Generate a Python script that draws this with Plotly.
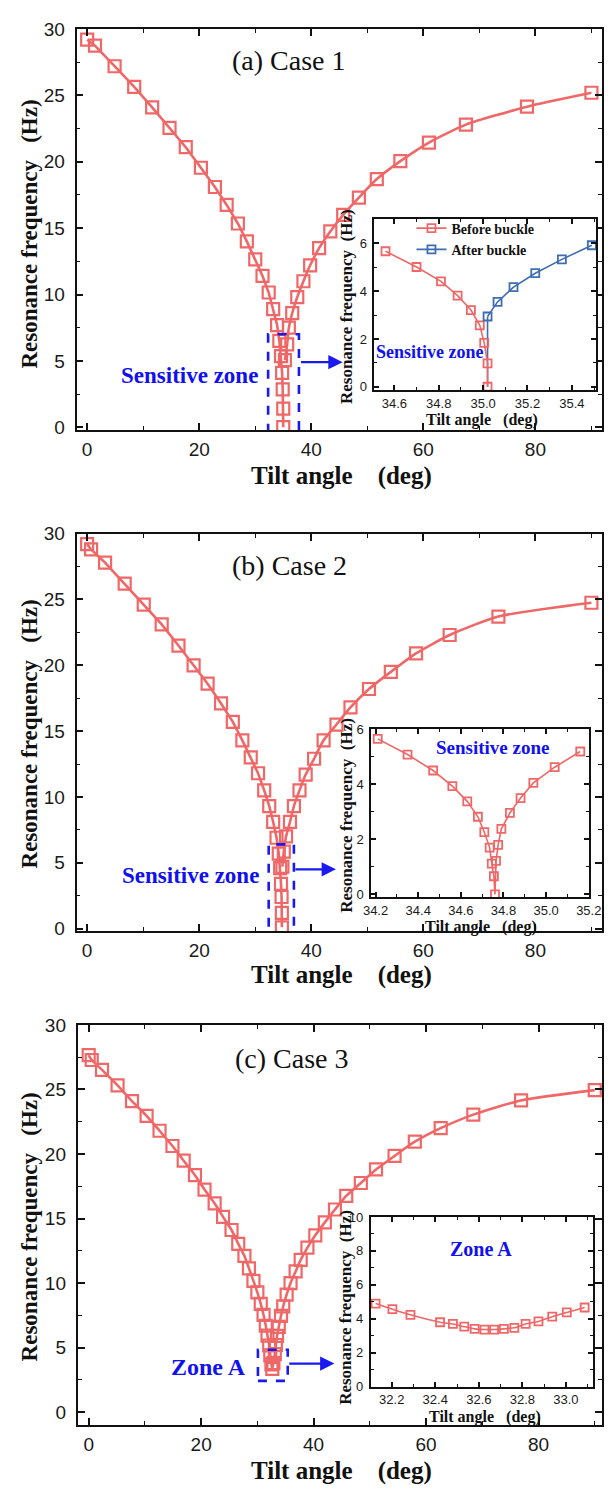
import plotly.graph_objects as go

W, H = 616, 1493

# ---------------- data ----------------
# (a) Case 1 main curve
a_left_x = [0, 1.4, 4.9, 8.4, 11.6, 14.7, 17.6, 20.3, 22.8, 24.9, 26.9, 28.5, 30.0, 31.3, 32.4, 33.2,
            33.9, 34.3, 34.6, 34.8, 34.9, 35.0, 35.0]
a_left_y = [29.2, 28.75, 27.2, 25.65, 24.1, 22.55, 21.1, 19.55, 18.1, 16.75, 15.35, 14.0, 12.65, 11.4,
            10.15, 8.9, 7.7, 6.5, 5.35, 4.1, 2.85, 1.4, 0.0]
a_right_x = [35.3, 35.7, 36.0, 36.6, 37.5, 38.6, 39.8, 41.4, 43.4, 45.7, 48.5, 51.7, 55.9, 61.0, 67.6, 78.5, 90.0]
a_right_y = [5.05, 6.25, 7.5, 8.6, 9.8, 11.0, 12.2, 13.5, 14.75, 16.0, 17.3, 18.7, 20.05, 21.45, 22.8, 24.15, 25.2]
# (a) inset
a_before_x = [34.56, 34.70, 34.81, 34.885, 34.945, 34.985, 35.005, 35.02, 35.02]
a_before_y = [5.67, 5.01, 4.41, 3.81, 3.21, 2.57, 1.84, 0.98, 0.0]
a_after_x = [35.02, 35.065, 35.137, 35.235, 35.355, 35.49]
a_after_y = [2.94, 3.55, 4.17, 4.75, 5.33, 5.92]

# (b) Case 2 main curve
b_left_x = [0, 0.7, 3.2, 6.7, 10.1, 13.3, 16.3, 19.0, 21.5, 23.9, 26.0, 27.7, 29.2, 30.5, 31.6, 32.5,
            33.2, 33.8, 34.2, 34.45, 34.6, 34.7, 34.75, 34.76]
b_left_y = [29.2, 28.8, 27.8, 26.2, 24.6, 23.1, 21.5, 20.0, 18.6, 17.1, 15.7, 14.3, 13.0, 11.8, 10.5, 9.3,
            8.1, 6.9, 5.7, 4.6, 3.4, 2.4, 1.2, 0.1]
b_right_x = [34.85, 35.1, 35.5, 36.2, 36.9, 37.9, 39.0, 40.5, 42.2, 44.5, 47.0, 50.3, 54.2, 58.7, 64.7, 73.4, 90.0]
b_right_y = [4.7, 5.85, 7.0, 8.1, 9.3, 10.5, 11.7, 12.9, 14.3, 15.5, 16.8, 18.2, 19.5, 20.9, 22.3, 23.7, 24.75]
# (b) inset
b_in_x = [34.21, 34.35, 34.47, 34.56, 34.63, 34.68, 34.71, 34.735, 34.745, 34.755, 34.76,
          34.765, 34.775, 34.79, 34.83, 34.88, 34.94, 35.04, 35.16]
b_in_y = [5.65, 5.08, 4.5, 3.93, 3.38, 2.82, 2.26, 1.7, 1.12, 0.66, 0.0,
          1.22, 1.8, 2.38, 2.96, 3.5, 4.05, 4.62, 5.19]

# (c) Case 3 main curve
c_x = [0, 0.54, 2.37, 5.14, 7.7, 10.3, 12.6, 14.9, 16.9, 18.9, 20.6, 22.4, 23.9, 25.4, 26.6, 27.7, 28.5,
       29.3, 30.0, 30.6, 31.1, 31.5, 31.8, 32.1, 32.3, 32.5, 32.65,
       32.85, 33.1, 33.3, 33.5, 33.8, 34.2, 34.6, 35.2, 35.9, 36.8, 37.7, 38.9, 40.3, 42.0, 43.8, 45.8,
       48.4, 51.1, 54.4, 58.0, 62.6, 68.4, 76.9, 90.0]
c_y = [27.66, 27.28, 26.52, 25.32, 24.1, 22.96, 21.8, 20.62, 19.48, 18.36, 17.24, 16.17, 15.13, 14.11,
       13.04, 12.1, 11.14, 10.17, 9.28, 8.39, 7.53, 6.69, 5.92, 5.16, 4.4, 3.7, 3.35,
       3.8, 4.5, 5.2, 5.9, 6.6, 7.45, 8.2, 9.1, 10.0, 10.9, 11.8, 12.75, 13.7, 14.7, 15.7, 16.75,
       17.75, 18.8, 19.85, 20.95, 22.0, 23.05, 24.15, 24.95]
# (c) inset (Zone A)
c_in_x = [32.126, 32.203, 32.286, 32.422, 32.481, 32.533, 32.581, 32.626, 32.67, 32.715, 32.763,
          32.815, 32.874, 32.937, 33.004, 33.086]
c_in_y = [4.89, 4.56, 4.23, 3.79, 3.69, 3.53, 3.40, 3.36, 3.36, 3.40, 3.46, 3.69, 3.84, 4.12, 4.37, 4.66]

main_x_ticks = [0, 20, 40, 60, 80]
main_y_ticks = [0, 5, 10, 15, 20, 25, 30]

# ---------------- style ----------------
RED = "#F06767"
BLUE_S = "#3E6DB2"
TXT_BLUE = "#1010F0"
SERIF = "Liberation Serif, Times New Roman, serif"
SANS = "Liberation Sans, Arial, sans-serif"
FRAME = "#111111"

fig = go.Figure()


def px(v):
    return v / W


def py(v):
    return 1 - v / H


def main_trace(x, y, xa, ya, shape="linear"):
    fig.add_trace(go.Scatter(
        x=x, y=y, xaxis=xa, yaxis=ya, mode="lines+markers", showlegend=False,
        line=dict(color=RED, width=2.6, shape=shape, smoothing=0.6),
        marker=dict(symbol="square-open", size=12, color=RED, line=dict(width=2.2, color=RED))))


def inset_trace(x, y, xa, ya, color=RED, name=None, legend=False, shape="linear", markers=True):
    fig.add_trace(go.Scatter(
        x=x, y=y, xaxis=xa, yaxis=ya, mode="lines+markers" if markers else "lines",
        name=name, showlegend=legend,
        line=dict(color=color, width=1.6, shape=shape, smoothing=0.6),
        marker=dict(symbol="square-open", size=8, color=color, line=dict(width=1.8, color=color))))


# main curves
main_trace(a_left_x, a_left_y, "x", "y")
main_trace(a_right_x, a_right_y, "x", "y", shape="spline")
main_trace(b_left_x, b_left_y, "x2", "y2")
main_trace(b_right_x, b_right_y, "x2", "y2", shape="spline")
main_trace(c_x, c_y, "x3", "y3", shape="spline")

# insets
inset_trace([a_before_x[-1], a_after_x[0]], [a_before_y[-1], a_after_y[0]], "x4", "y4",
            color=BLUE_S, markers=False)
inset_trace(a_before_x, a_before_y, "x4", "y4", color=RED, name="Before buckle", legend=True)
inset_trace(a_after_x, a_after_y, "x4", "y4", color=BLUE_S, name="After buckle", legend=True)
inset_trace(b_in_x, b_in_y, "x5", "y5")
inset_trace(c_in_x, c_in_y, "x6", "y6", shape="spline")


def axis(domain, rng, dtick, minor, ticksize, anchor, standoff, ticklen=6, tickvals=None):
    d = dict(domain=domain, range=rng, showline=True, linecolor=FRAME, linewidth=1.8, mirror="ticks",
             ticks="inside", ticklen=ticklen, tickwidth=1.5, tickcolor=FRAME, showgrid=False,
             zeroline=False, tickfont=dict(family=SANS, size=ticksize, color="#1a1a1a"),
             minor=dict(dtick=minor, tick0=0, ticks="inside", ticklen=round(ticklen * 0.55),
                        tickwidth=1.2, tickcolor=FRAME, showgrid=False),
             ticklabelstandoff=standoff, anchor=anchor, tick0=0)
    if tickvals is not None:
        d["tickmode"] = "array"
        d["tickvals"] = tickvals
    else:
        d["dtick"] = dtick
    return d


fig.update_layout(
    xaxis=axis([px(70.8), px(614)], [-1.9, 91.9], 20, 10, 19, "y", 1, 7, main_x_ticks),
    yaxis=axis([py(425), py(19.3)], [-0.2, 30.0], 5, 2.5, 19, "x", 6, 7, main_y_ticks),
    xaxis2=axis([px(70.8), px(614)], [-1.9, 91.9], 20, 10, 19, "y2", 1, 7, main_x_ticks),
    yaxis2=axis([py(932.5), py(530)], [-0.2, 30.0], 5, 2.5, 19, "x2", 6, 7, main_y_ticks),
    xaxis3=axis([px(72), px(614)], [-1.96, 91.3], 20, 10, 19, "y3", 1, 7, main_x_ticks),
    yaxis3=axis([py(1432.3), py(1027.3)], [-1.0, 30.0], 5, 2.5, 19, "x3", 6, 7, main_y_ticks),
    xaxis4=axis([px(378.7), px(608)], [34.51, 35.51], 0.2, 0.1, 13, "y4", 0, 5),
    yaxis4=axis([py(385), py(212)], [-0.15, 7.0], 2, 1, 13, "x4", 3, 5),
    xaxis5=axis([px(375.5), px(600.5)], [34.18, 35.201], 0.2, 0.1, 13, "y5", 0, 5),
    yaxis5=axis([py(898), py(728)], [-0.1, 6.0], 2, 1, 13, "x5", 3, 5),
    xaxis6=axis([px(375), px(605)], [32.104, 33.126], 0.2, 0.1, 13, "y6", 0, 5),
    yaxis6=axis([py(1393.3), py(1221.7)], [0, 10], 2, 1, 13, "x6", 3, 5),
)
fig.layout.xaxis4.tickformat = ".1f"
fig.layout.xaxis5.tickformat = ".1f"
fig.layout.xaxis6.tickformat = ".1f"

annotations = []


def text(t, x, y, size, color="#111", xref="paper", yref="paper", angle=0, bold=True, xanchor="center"):
    annotations.append(dict(text=("<b>%s</b>" % t) if bold else t, x=x, y=y, xref=xref, yref=yref,
                            showarrow=False, textangle=angle, xanchor=xanchor, yanchor="middle",
                            font=dict(family=SERIF, size=size, color=color)))


NB = "\u00a0"
XT = "Tilt angle" + NB * 4 + "(deg)"
YT = "Resonance frequency" + NB * 3 + "(Hz)"
XT_S = "Tilt angle" + NB * 3 + "(deg)"
YT_S = "Resonance frequency" + NB * 2 + "(Hz)"

# main axis titles
for cy, ty in [(227, 472), (733, 977), (1232, 1479)]:
    text(YT, px(22), py(cy), 23, angle=-90)
    text(XT, px(345), py(ty), 25)
# inset axis titles
text(YT_S, px(350), py(300), 17, angle=-90)
text(XT_S, px(490), py(415), 16)
text(YT_S, px(350), py(815), 17, angle=-90)
text(XT_S, px(489), py(928), 16)
text(YT_S, px(349), py(1313), 17, angle=-90)
text(XT_S, px(493), py(1424), 16)

# panel labels
text("(a) Case 1", 36.1, 27.6, 28, xref="x", yref="y", bold=False)
text("(b) Case 2", 36.1, 27.6, 28, xref="x2", yref="y2", bold=False)
text("(c) Case 3", 36.1, 27.4, 28, xref="x3", yref="y3", bold=False)

# zone labels
text("Sensitive zone", 18.2, 3.9, 23, color=TXT_BLUE, xref="x", yref="y")
text("Sensitive zone", 18.4, 4.0, 23, color=TXT_BLUE, xref="x2", yref="y2")
text("Zone A", 21.3, 3.5, 24, color=TXT_BLUE, xref="x3", yref="y3")
text("Sensitive zone", 34.51, 1.45, 18, color=TXT_BLUE, xref="x4", yref="y4", xanchor="left")
text("Sensitive zone", 34.75, 5.35, 19, color=TXT_BLUE, xref="x5", yref="y5")
text("Zone A", 32.61, 8.1, 20, color=TXT_BLUE, xref="x6", yref="y6")

# arrows
for (xr, yr, x0, x1, yv) in [("x", "y", 37.9, 45.6, 4.9), ("x2", "y2", 36.9, 44.4, 4.5),
                             ("x3", "y3", 35.4, 43.7, 3.76)]:
    annotations.append(dict(x=x1, y=yv, ax=x0, ay=yv, xref=xr, yref=yr, axref=xr, ayref=yr,
                            showarrow=True, arrowhead=2, arrowsize=1.3, arrowwidth=2.2,
                            arrowcolor="#1A1AF0", text=""))

shapes = []
for (xr, yr, x0, x1, y0, y1) in [("x", "y", 32.3, 37.8, -0.6, 7.0), ("x2", "y2", 32.4, 36.9, -0.6, 6.4),
                                 ("x3", "y3", 30.1, 35.4, 2.42, 4.83)]:
    shapes.append(dict(type="rect", xref=xr, yref=yr, x0=x0, x1=x1, y0=y0, y1=y1,
                       line=dict(color="#1A1AF0", width=2.6, dash="dash"), layer="above"))

fig.update_layout(
    width=W, height=H, margin=dict(l=0, r=0, t=0, b=0),
    paper_bgcolor="white", plot_bgcolor="white",
    annotations=annotations, shapes=shapes,
    legend=dict(x=px(417), y=py(205), xanchor="left", yanchor="top", bgcolor="rgba(0,0,0,0)",
                font=dict(family=SERIF, size=14, color="#111", weight="bold"),
                itemwidth=30, tracegroupgap=0),
)

fig.write_html("out.html")
